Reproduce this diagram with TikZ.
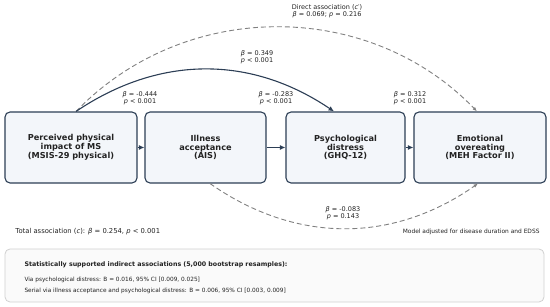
\documentclass[tikz,border=0pt]{standalone}
\usepackage{fontspec}
\setmainfont{DejaVu Sans}
\usetikzlibrary{arrows.meta, positioning}
\definecolor{cnavy}{HTML}{2C3E55}
\definecolor{cfill}{HTML}{F3F6FA}
\definecolor{cgrey}{HTML}{808080}
\definecolor{ctext}{HTML}{222222}
\definecolor{cpanel}{HTML}{FAFAFA}
\definecolor{cedge}{HTML}{D0D0D0}
\newcommand{\bet}{\textit{β}}
\newcommand{\pv}{\textit{p}}
\tikzset{
  every picture/.style={line width=1pt, text=ctext},
  var/.style={draw=cnavy, fill=cfill, rounded corners=5pt, align=center, minimum height=71pt, inner sep=2pt, line width=1.1pt,
    font=\fontsize{8.2}{8.8}\selectfont\bfseries},
  link/.style={-{Latex[length=5.5pt, width=5pt]}, draw=cnavy, line width=1.1pt},
  direct/.style={-{Latex[length=4.5pt, width=3.5pt]}, draw=cgrey, dash pattern=on 5pt off 3pt, line width=0.9pt},
  coef/.style={font=\fontsize{6.5}{7.3}\selectfont, align=center, inner sep=0pt},
  note/.style={font=\fontsize{5.9}{7}\selectfont, inner sep=0pt},
  panel/.style={draw=cedge, fill=cpanel, rounded corners=5pt, line width=0.8pt},
}

\begin{document}
\begin{tikzpicture}[x=1pt, y=1pt]
  \useasboundingbox (0,0) rectangle (550,307);
  % the four variables
  \node[var, minimum width=132pt] (phys) at (71,159.5) {Perceived physical\\impact of MS\\(MSIS-29 physical)};
  \node[var, minimum width=121pt] (accept) at (205.5,159.5) {Illness\\acceptance\\(AIS)};
  \node[var, minimum width=119pt] (distress) at (345.5,159.5) {Psychological\\distress\\(GHQ-12)};
  \node[var, minimum width=132pt] (overeat) at (480,159.5) {Emotional\\overeating\\(MEH Factor II)};
  \draw[link] (phys) -- (accept); \draw[link] (accept) -- (distress); \draw[link] (distress) -- (overeat);
  % curved paths
  \draw[direct] ([xshift=5pt]phys.north) to[bend left=46] ([xshift=-3pt]overeat.north);
  \draw[link] ([xshift=5pt]phys.north) to[bend left=34] ([xshift=-11.5pt]distress.north);
  \draw[direct] ([xshift=4.5pt]accept.south) to[bend right=35] ([xshift=-2pt]overeat.south);
  % coefficients
  \node[coef] (cdirect) at (327,296) {Direct association (\textit{c}′)\\\bet{} = 0.069; \pv{} = 0.216};
  \node[coef] (cphysdist) at (257,250) {\bet{} = 0.349\\\pv{} < 0.001};
  \node[coef] (cphysacc) at (140,208.5) {\bet{} = -0.444\\\pv{} < 0.001};
  \node[coef] (caccdist) at (276,208.5) {\bet{} = -0.283\\\pv{} < 0.001};
  \node[coef] (cdistover) at (410,208.5) {\bet{} = 0.312\\\pv{} < 0.001};
  \node[coef] (caccover) at (343,93.5) {\bet{} = -0.083\\\pv{} = 0.143};
  \node[anchor=west, inner sep=0pt, font=\fontsize{6.8}{8}\selectfont] (total) at (15,75) {Total association (\textit{c}): \bet{} = 0.254, \pv{} < 0.001};
  \node[note, anchor=east] (model) at (540,75) {Model adjusted for disease duration and EDSS};
  % indirect effects panel
  \node[panel, minimum width=539pt, minimum height=53pt] (box) at (274.5,31.5) {};
  \node[anchor=west, inner sep=0pt, font=\fontsize{6.3}{7}\selectfont\bfseries] (btitle) at (24,42) {Statistically supported indirect associations (5,000 bootstrap resamples):};
  \node[anchor=west, inner sep=0pt, font=\fontsize{5.8}{7}\selectfont] (bvia) at (24,27.5) {Via psychological distress: B = 0.016, 95\% CI [0.009, 0.025]};
  \node[anchor=west, inner sep=0pt, font=\fontsize{5.8}{7}\selectfont] (bserial) at (24,16) {Serial via illness acceptance and psychological distress: B = 0.006, 95\% CI [0.003, 0.009]};
\end{tikzpicture}
\end{document}
